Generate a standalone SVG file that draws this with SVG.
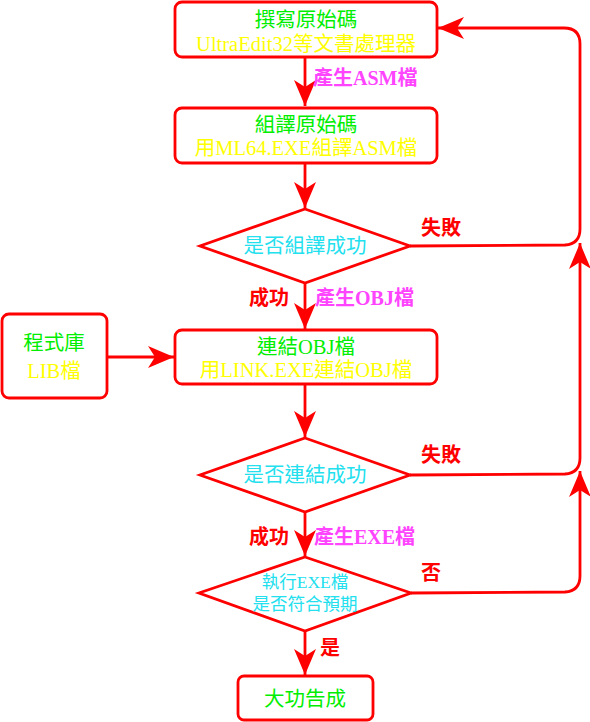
<svg xmlns="http://www.w3.org/2000/svg" width="590" height="722" viewBox="0 0 590 722">
<style>
.box{fill:#fff;stroke:#ff0000;stroke-width:2.8}
.con{fill:none;stroke:#ff0000;stroke-width:2.8}
.t{font-family:"Liberation Serif","Noto Sans CJK TC",serif;font-size:20.5px;text-anchor:middle}
.s{font-size:17.5px}
.g{fill:#00ee00}
.y{fill:#ffff00}
.c{fill:#22e0ee}
.lab{font-family:"Liberation Serif","Noto Sans CJK TC",serif;font-size:20px;font-weight:bold}
.m{fill:#ff44ff}
.r{fill:#ff0000}
</style>
<defs>
<marker id="ah" markerUnits="userSpaceOnUse" markerWidth="32" markerHeight="26" viewBox="-30 -13 32 26" refX="0" refY="0" orient="auto">
<path d="M0,0 Q-12,-5 -26,-11 L-19,0 L-26,11 Q-12,5 0,0 Z" fill="#ff0000"/>
</marker>
</defs>
<g id="connectors">
<path class="con" d="M305,57 L305,106" marker-end="url(#ah)"/>
<path class="con" d="M305,163 L305,208" marker-end="url(#ah)"/>
<path class="con" d="M305,283 L305,329" marker-end="url(#ah)"/>
<path class="con" d="M107,357 L174,357" marker-end="url(#ah)"/>
<path class="con" d="M305,384 L305,437" marker-end="url(#ah)"/>
<path class="con" d="M305,512 L305,556" marker-end="url(#ah)"/>
<path class="con" d="M305,631 L305,675" marker-end="url(#ah)"/>
<path class="con" d="M410,246 L565,245 Q580,244 580,229 L580,44 Q580,28 564,28 L438,28" marker-end="url(#ah)"/>
<path class="con" d="M410,475 L565,474 Q580,473 580,458 L580,243" marker-end="url(#ah)"/>
<path class="con" d="M411,593 L565,592 Q580,591 580,576 L580,471" marker-end="url(#ah)"/>
<text class="lab m" x="313" y="85">產生ASM檔</text>
<text class="lab r" x="421" y="235">失敗</text>
<text class="lab r" x="249" y="305">成功</text>
<text class="lab m" x="315" y="305">產生OBJ檔</text>
<text class="lab r" x="421" y="462">失敗</text>
<text class="lab r" x="249" y="544">成功</text>
<text class="lab m" x="314" y="544">產生EXE檔</text>
<text class="lab r" x="421" y="580">否</text>
<text class="lab r" x="320" y="655">是</text>
</g>
<g id="n1">
<rect class="box" x="175" y="2" width="262" height="55" rx="7"/>
<text class="t g" x="306" y="27">撰寫原始碼</text>
<text class="t y" x="306" y="51">UltraEdit32等文書處理器</text>
</g>
<g id="n2">
<rect class="box" x="175" y="108" width="262" height="55" rx="7"/>
<text class="t g" x="306" y="132">組譯原始碼</text>
<text class="t y" x="306" y="155">用ML64.EXE組譯ASM檔</text>
</g>
<g id="d1">
<polygon class="box" points="305,209 410,246 305,283 200,246"/>
<text class="t c" x="305" y="253">是否組譯成功</text>
</g>
<g id="lib">
<rect class="box" x="2" y="314" width="105" height="84" rx="7"/>
<text class="t g" x="54" y="350">程式庫</text>
<text class="t y" x="54" y="378">LIB檔</text>
</g>
<g id="n3">
<rect class="box" x="175" y="330" width="262" height="54" rx="7"/>
<text class="t g" x="306" y="354">連結OBJ檔</text>
<text class="t y" x="306" y="377">用LINK.EXE連結OBJ檔</text>
</g>
<g id="d2">
<polygon class="box" points="305,438 410,475 305,512 200,475"/>
<text class="t c" x="305" y="482">是否連結成功</text>
</g>
<g id="d3">
<polygon class="box" points="305,557 411,593 305,631 199,593"/>
<text class="t s c" x="305" y="588">執行EXE檔</text>
<text class="t s c" x="305" y="610">是否符合預期</text>
</g>
<g id="n4">
<rect class="box" x="238" y="676" width="135" height="44" rx="6"/>
<text class="t g" x="305" y="706">大功告成</text>
</g>
</svg>
